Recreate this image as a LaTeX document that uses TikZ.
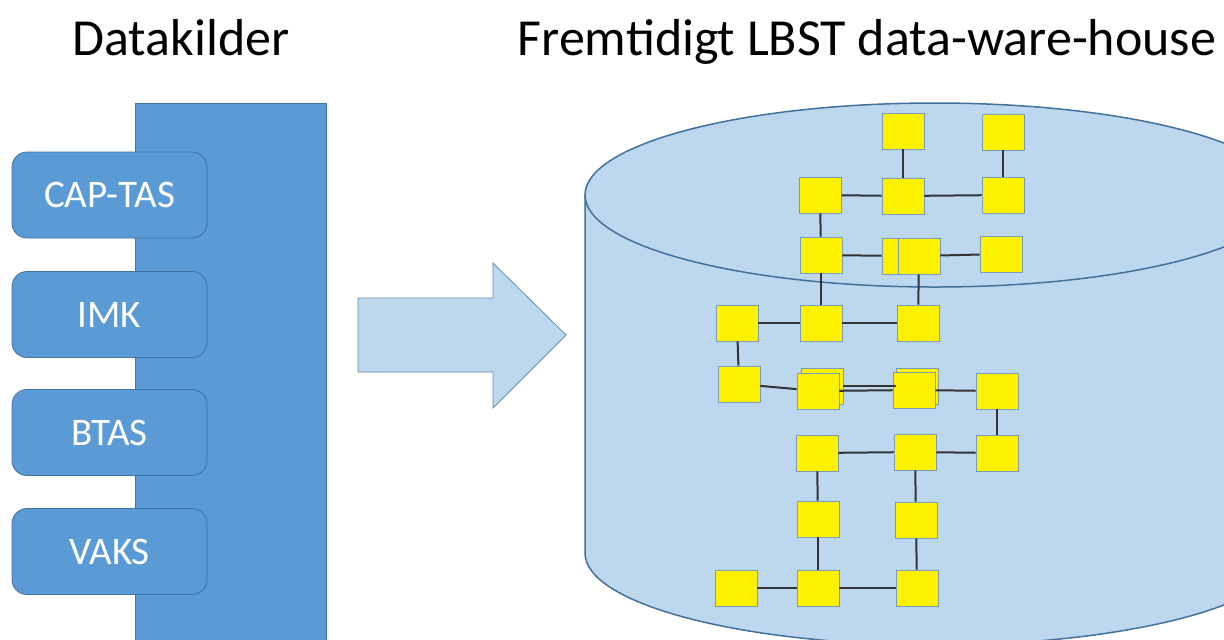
\documentclass[tikz,border=0pt]{standalone}
\usepackage{fontspec}
\setmainfont{Carlito}
\usepackage{tikz}

\definecolor{kildeblue}{HTML}{5B9BD5}
\definecolor{lightblue}{HTML}{BDD7EE}
\definecolor{rimblue}{HTML}{41719C}

\tikzset{
  kilde/.style={draw=rimblue, fill=kildeblue, rounded corners=7.5pt,
    minimum width=97.5pt, minimum height=43pt, inner sep=0pt,
    text=white, font=\fontsize{19.5}{22}\selectfont},
  tabel/.style={draw=rimblue!70, fill=yellow, minimum width=21pt,
    minimum height=18pt, inner sep=0pt},
  forb/.style={draw=black!80, line width=1pt},
  titel/.style={anchor=base, font=\fontsize{26}{30}\selectfont}
}

\begin{document}
\begin{tikzpicture}[x=0.5pt,y=-0.5pt]
\clip (0,0) rectangle (1224,639);
\node[titel] (kilder) at (181,55) {Datakilder};
\node[titel] (dwh) at (867,55) {Fremtidigt LBST data-ware-house};

% datakilder
\draw[rimblue, fill=kildeblue] (135,103) rectangle (326,650);
\node[kilde] (cap) at (109.5,195) {CAP-TAS};
\node[kilde] (imk) at (109.5,314.5) {IMK};
\node[kilde] (btas) at (109.5,432.5) {BTAS};
\node[kilde] (vaks) at (109.5,551.5) {VAKS};

% pil
\draw[rimblue!80, fill=lightblue] (358,298) -- (493,298) -- (493,263) -- (566,335)
  -- (493,408) -- (493,372) -- (358,372) -- cycle;

% cylinder
\draw[rimblue, fill=lightblue, line width=0.75pt] (585,195) -- (585,553)
  arc[start angle=180, end angle=360, x radius=175pt, y radius=46pt] -- (1285,195) -- cycle;
\draw[rimblue, fill=lightblue, line width=0.75pt] (935,195) ellipse [x radius=175pt, y radius=46pt];

% tabeller
\node[tabel] (a1) at (903,131) {};
\node[tabel] (a2) at (1003,132) {};
\node[tabel] (b1) at (820,195) {};
\node[tabel] (b2) at (903,196) {};
\node[tabel] (b3) at (1003,195) {};
\node[tabel] (c1) at (821,255) {};
\node[tabel] (c2) at (903,256) {};
\node[tabel] (c3) at (919,256) {};
\node[tabel] (c4) at (1001,254) {};
\node[tabel] (d1) at (737,323) {};
\node[tabel] (d2) at (821,323) {};
\node[tabel] (d3) at (918,323) {};
\node[tabel] (e1) at (739,384) {};
\node[tabel] (e2b) at (822,386) {};
\node[tabel] (e2) at (818,391) {};
\node[tabel] (e3b) at (917,386) {};
\node[tabel] (e3) at (914,390) {};
\node[tabel] (e4) at (997,391) {};
\node[tabel] (f1) at (817,453) {};
\node[tabel] (f2) at (915,452) {};
\node[tabel] (f3) at (997,453) {};
\node[tabel] (g1) at (818,519) {};
\node[tabel] (g2) at (916,520) {};
\node[tabel] (h1) at (736,588) {};
\node[tabel] (h2) at (818,588) {};
\node[tabel] (h3) at (917,588) {};

\draw[forb] (a1) -- (b2);
\draw[forb] (a2) -- (b3);
\draw[forb] (b1) -- (b2);
\draw[forb] (b2) -- (b3);
\draw[forb] (b1) -- (c1);
\draw[forb] (c1) -- (c2);
\draw[forb] (c3) -- (c4);
\draw[forb] (c1) -- (d2);
\draw[forb] (c3) -- (d3);
\draw[forb] (d1) -- (d2);
\draw[forb] (d2) -- (d3);
\draw[forb] (d1) -- (e1);
\draw[forb] (e1) -- (e2);
\draw[forb] (e2b) -- (e3b);
\draw[forb] (e2) -- (e3);
\draw[forb] (e3) -- (e4);
\draw[forb] (e4) -- (f3);
\draw[forb] (f1) -- (f2);
\draw[forb] (f2) -- (f3);
\draw[forb] (f1) -- (g1);
\draw[forb] (f2) -- (g2);
\draw[forb] (g1) -- (h2);
\draw[forb] (g2) -- (h3);
\draw[forb] (h1) -- (h2);
\draw[forb] (h2) -- (h3);
\end{tikzpicture}
\end{document}
